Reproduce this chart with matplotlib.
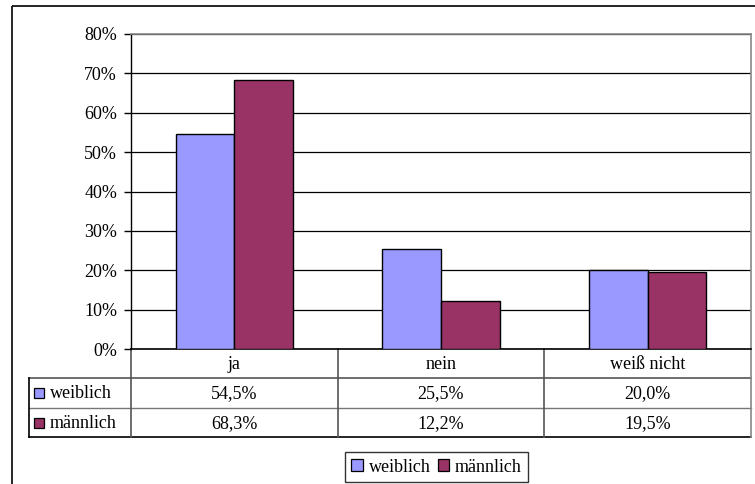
import numpy as np
import matplotlib.pyplot as plt
from matplotlib.patches import Rectangle

categories = ["ja", "nein", "weiß nicht"]
series_names = ["weiblich", "männlich"]
weiblich = [54.5, 25.5, 20.0]
maennlich = [68.3, 12.2, 19.5]
series_values = [weiblich, maennlich]
series_colors = ["#9999FF", "#993366"]
y_ticks = [0, 10, 20, 30, 40, 50, 60, 70, 80]

W, H = 755, 484
plt.rcParams['font.family'] = ['Liberation Serif', 'DejaVu Serif']
FS = 13

fig = plt.figure(figsize=(W / 100, H / 100), dpi=100)


def fig_rect(x0, y0, x1, y1):
    # pixel box (top-left origin) -> figure fraction
    return [x0 / W, (H - y1) / H, (x1 - x0) / W, (y1 - y0) / H]


# overlay in pixel coordinates for the frame, table grid and legend
over = fig.add_axes([0, 0, 1, 1], zorder=0)
over.set_xlim(0, W)
over.set_ylim(H, 0)
over.axis("off")

# outer chart frame
over.add_patch(Rectangle((12, 6), 760, 500, fill=False, ec="black", lw=1.2))

# plot area
PX0, PX1, PY0, PY1 = 131, 751, 34, 349
ax = fig.add_axes(fig_rect(PX0, PY0, PX1, PY1), zorder=2)
ax.set_facecolor("none")
n = len(categories)
x = np.arange(n)
bw = 58.5 / ((PX1 - PX0) / n)
for k, (vals, col) in enumerate(zip(series_values, series_colors)):
    ax.bar(x + (k - 0.5) * bw, vals, width=bw, color=col, edgecolor="black",
           linewidth=1.0, zorder=3)
ax.set_xlim(-0.5, n - 0.5)
ax.set_ylim(0, 80)
ax.set_yticks(y_ticks)
ax.set_yticklabels([f"{t}%" for t in y_ticks], fontsize=FS)
ax.set_xticks([])
ax.yaxis.grid(True, color="black", lw=0.9)
ax.set_axisbelow(True)
for s in ["top", "right"]:
    ax.spines[s].set_color("#888888")
    ax.spines[s].set_linewidth(1.2)
ax.spines["left"].set_linewidth(1.0)
ax.spines["bottom"].set_linewidth(1.2)
ax.tick_params(axis="y", length=5, width=1.0, pad=5)

# data table below the plot area
TX0 = 29
rows_y = [349, 378, 408, 437]
colw = (PX1 - PX0) / n
over.plot([TX0, PX1], [rows_y[1], rows_y[1]], color="#555555", lw=1.2)
over.plot([TX0, PX1], [rows_y[2], rows_y[2]], color="#777777", lw=1.0)
over.plot([TX0, PX1], [rows_y[3], rows_y[3]], color="black", lw=1.2)
over.plot([TX0, TX0], [rows_y[1], rows_y[3]], color="black", lw=1.2)
over.plot([PX1, PX1], [rows_y[0], rows_y[3]], color="#888888", lw=1.2)
for j in range(n):
    xl = PX0 + j * colw
    over.plot([xl, xl], [rows_y[0], rows_y[3]], color="#555555", lw=1.2)
    over.text(xl + colw / 2, (rows_y[0] + rows_y[1]) / 2 + 1, categories[j],
              ha="center", va="center", fontsize=FS)
for r, (name, vals, col) in enumerate(zip(series_names, series_values, series_colors)):
    yc = (rows_y[r + 1] + rows_y[r + 2]) / 2
    over.add_patch(Rectangle((34, yc - 5), 10, 10, fc=col, ec="black", lw=0.9))
    over.text(50, yc + 1, name, ha="left", va="center", fontsize=FS)
    for j, v in enumerate(vals):
        over.text(PX0 + j * colw + colw / 2, yc + 1, f"{v:.1f}%".replace(".", ","),
                  ha="center", va="center", fontsize=FS)

# legend
handles = [Rectangle((0, 0), 1, 1, fc=c, ec="black", lw=0.9) for c in series_colors]
leg = fig.legend(handles, series_names, ncol=2, loc="center",
                 bbox_to_anchor=((342 + 531) / 2 / W, 1 - (452 + 482) / 2 / H),
                 fontsize=FS, frameon=True, fancybox=False, edgecolor="black",
                 handlelength=0.65, handleheight=0.65, handletextpad=0.3,
                 columnspacing=0.4, borderpad=0.35, borderaxespad=0)
leg.get_frame().set_linewidth(1.0)

fig.savefig("out.png", dpi=100)
